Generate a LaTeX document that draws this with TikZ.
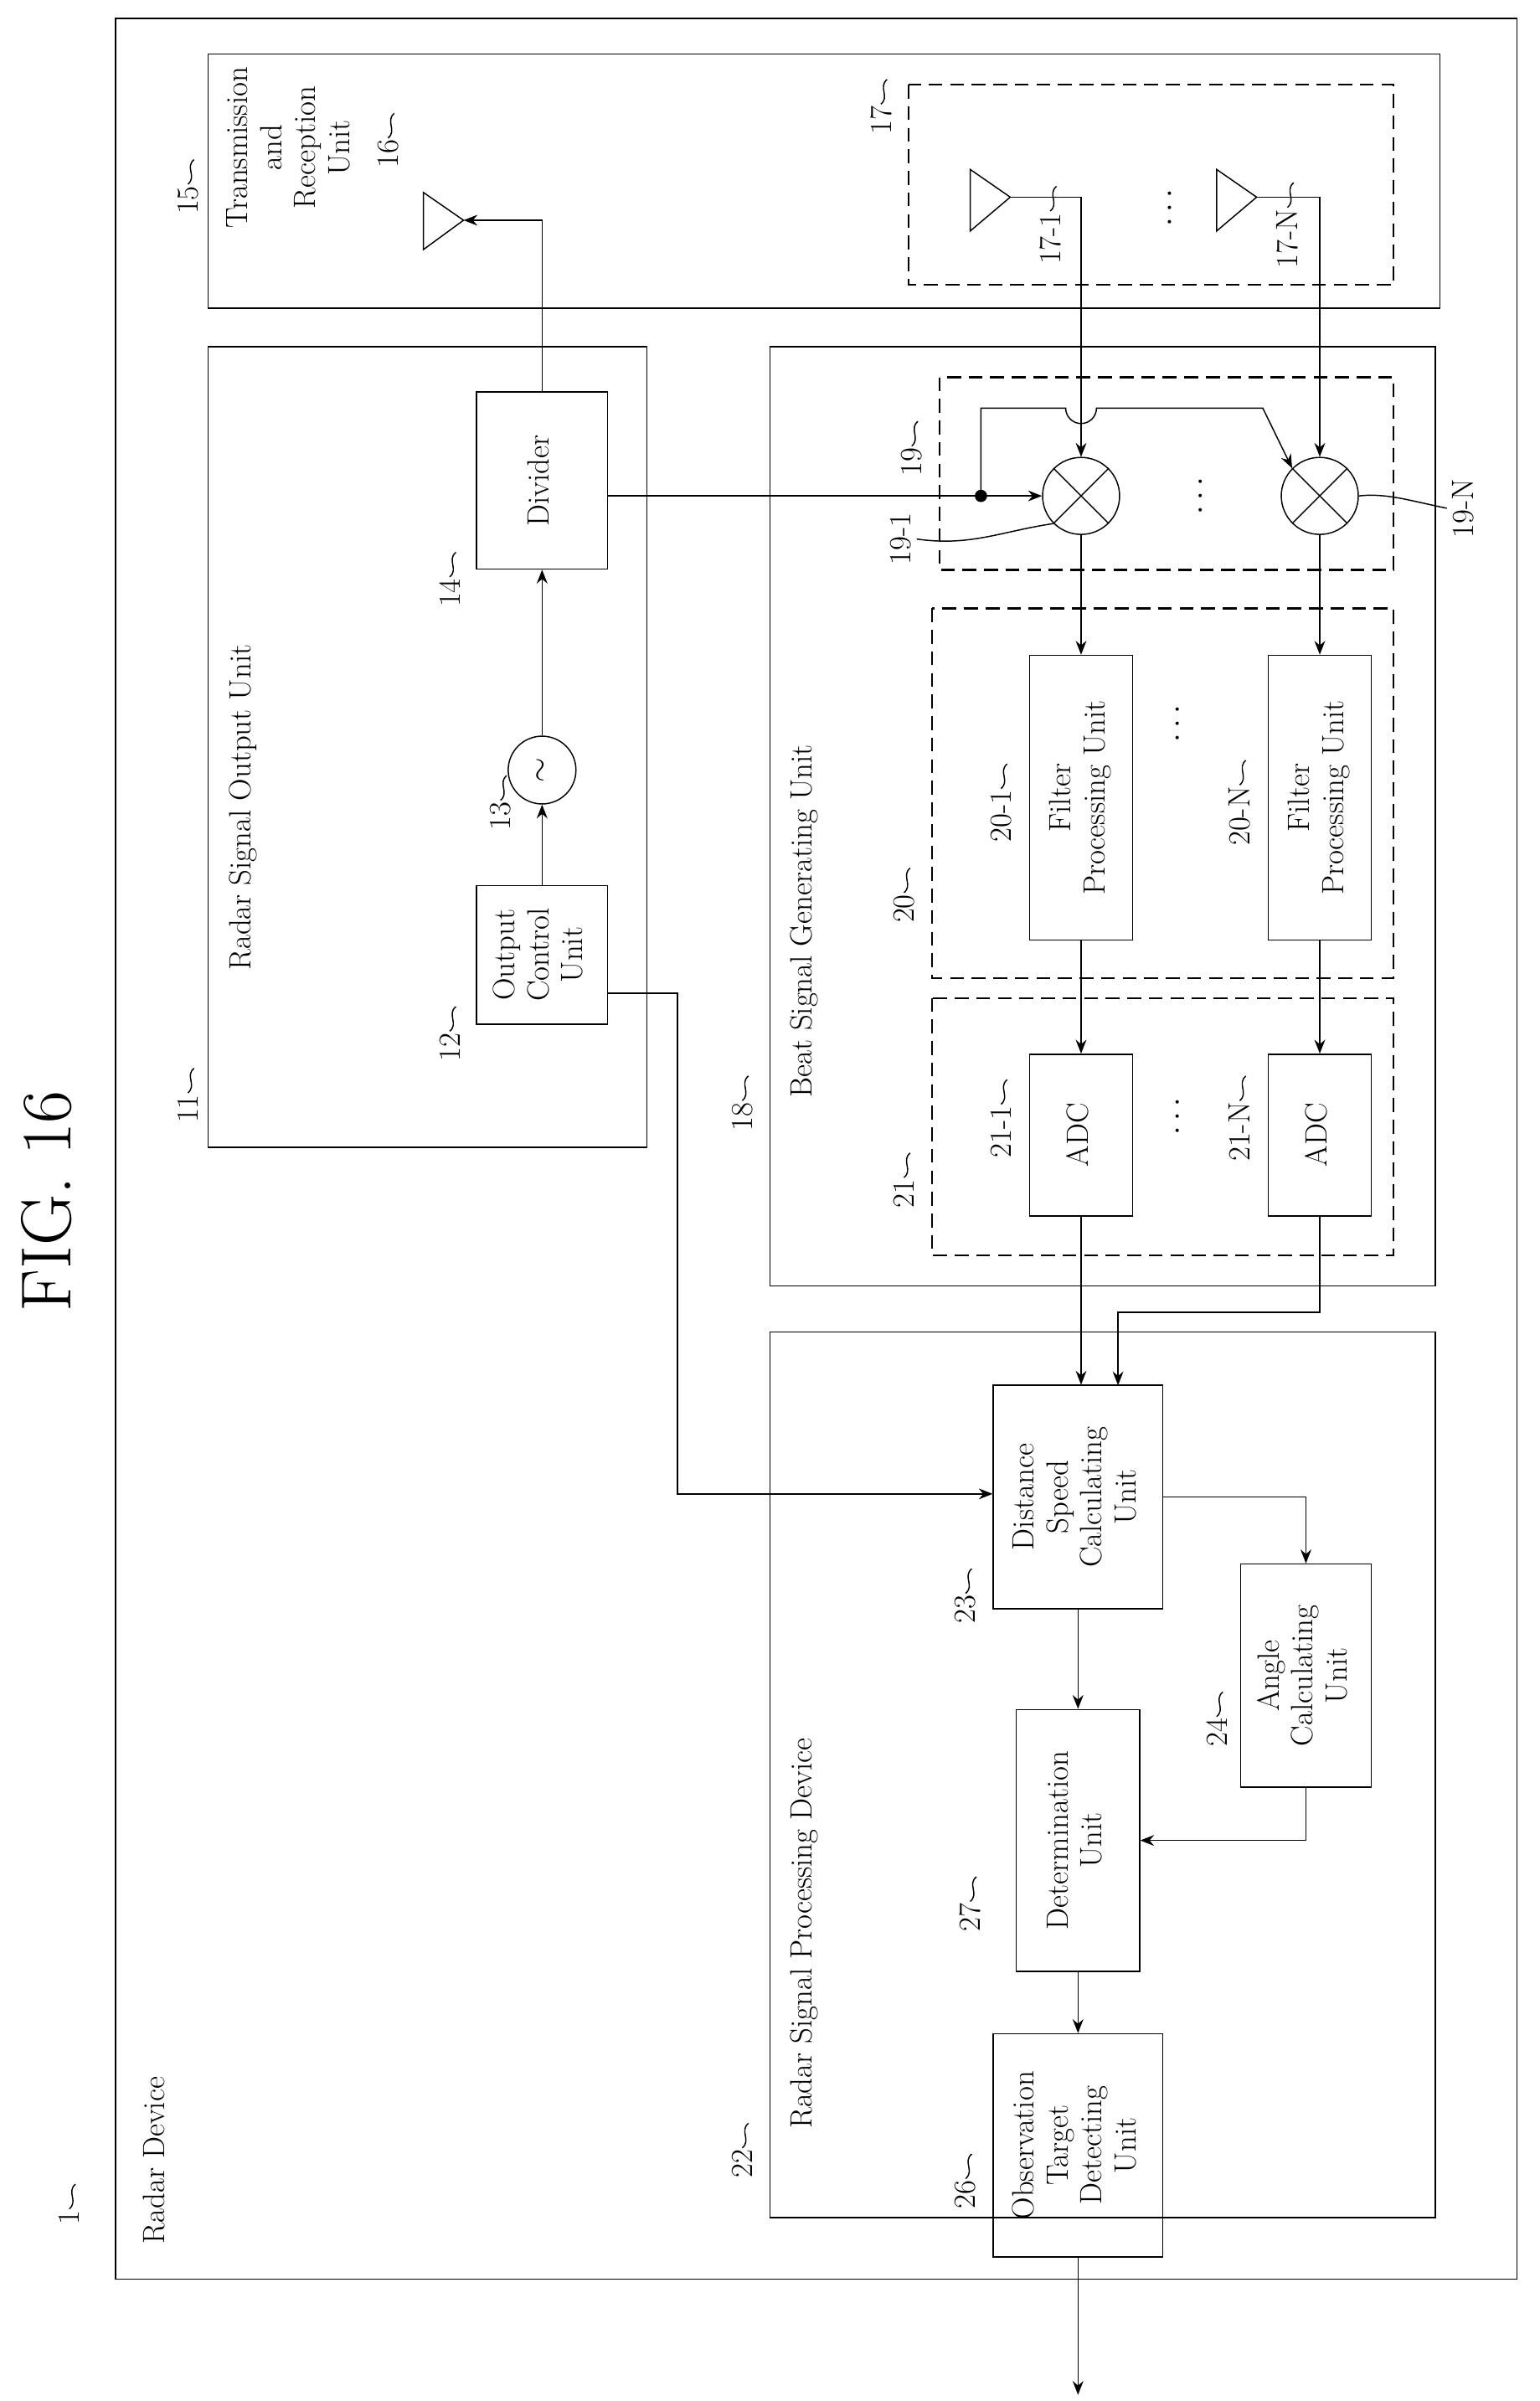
\documentclass[tikz,border=0pt]{standalone}
\usepackage{graphicx}
\usetikzlibrary{arrows.meta}
\newcommand\rt[1]{\rotatebox{90}{\begin{tabular}{@{}c@{}}#1\end{tabular}}}
\newcommand\reflbl[3]{%
  \node[font=\fontsize{20}{22}\selectfont, inner sep=1pt] (#1) at (#2) {\rotatebox{90}{#3}};
  \draw[thick] (#1.north) .. controls +(6,-5) and +(-6,5) .. +(4,-16);}
\begin{document}
\begin{tikzpicture}[x=1pt, y=-1pt,
    every node/.style={font=\fontsize{20}{22}\selectfont},
    box/.style={draw, thick, inner sep=0},
    frame/.style={draw, thick},
    dbox/.style={draw, very thick, dash pattern=on 9pt off 5pt},
    mix/.style={draw, thick, circle, minimum size=50, inner sep=0},
    flow/.style={thick, -{Stealth[length=9pt, width=7pt]}}]
  \useasboundingbox (0,0) rectangle (1000,1559);

  \node[font=\fontsize{46}{50}\selectfont] (title) at (30,780) {\rotatebox{90}{FIG. 16}};

  % frames
  \draw[frame] (75,12) rectangle (985,1480);
  \node[anchor=north] (radar) at (100,1345) {\rotatebox{90}{Radar Device}};
  \reflbl{l1}{45,1440}{1}
  \draw[frame] (135,35) rectangle (935,200);
  \node[anchor=north west] (tru) at (142,40) {\rt{Transmission\\and\\Reception\\Unit}};
  \reflbl{l15}{122,130}{15}
  \draw[frame] (135,225) rectangle (420,745);
  \node[anchor=north] (rsou) at (158,415) {\rotatebox{90}{Radar Signal Output Unit}};
  \reflbl{l11}{122,720}{11}
  \draw[frame] (500,225) rectangle (932,835);
  \node[anchor=north] (bsgu) at (522,480) {\rotatebox{90}{Beat Signal Generating Unit}};
  \reflbl{l18}{482,725}{18}
  \draw[frame] (500,865) rectangle (932,1440);
  \node[anchor=north] (rspd) at (522,1125) {\rotatebox{90}{Radar Signal Processing Device}};
  \reflbl{l22}{482,1405}{22}

  \draw[dbox] (590,55) rectangle (905,185);
  \reflbl{l17}{572,78}{17}
  \draw[dbox] (610,245) rectangle (905,370);
  \reflbl{l19}{592,300}{19}
  \draw[dbox] (605,395) rectangle (905,635);
  \reflbl{l20}{587,590}{20}
  \draw[dbox] (605,648) rectangle (905,815);
  \reflbl{l21}{587,775}{21}

  % output unit
  \node[box, minimum width=85, minimum height=115] (div) at (352,312) {\rt{Divider}};
  \reflbl{l14}{292,385}{14}
  \node[draw, thick, circle, minimum size=44, inner sep=0] (osc) at (352,500) {\rotatebox{90}{$\sim$}};
  \reflbl{l13}{325,530}{13}
  \node[box, minimum width=85, minimum height=90] (ocu) at (352,620) {\rt{Output\\Control\\Unit}};
  \reflbl{l12}{292,680}{12}

  % antennas
  \draw[thick] (275,125) -- (275,162) -- (301,143) -- cycle;
  \coordinate (ant16) at (301,143);
  \reflbl{l16}{252,100}{16}
  \draw[thick] (630,110) -- (630,150) -- (656,128) -- cycle;
  \coordinate (ant1) at (656,128);
  \reflbl{l171}{682,155}{17-1}
  \draw[thick] (790,110) -- (790,150) -- (816,128) -- cycle;
  \coordinate (antN) at (816,128);
  \reflbl{l17N}{836,155}{17-N}
  \node (dots1) at (760,135) {\rotatebox{90}{$\cdots$}};

  % mixers
  \node[mix] (mx1) at (702,322) {};
  \node[mix] (mxN) at (857,322) {};
  \foreach \m in {mx1,mxN}
    \draw[thick] (\m.north west) -- (\m.south east) (\m.north east) -- (\m.south west);
  \node (dots2) at (780,322) {\rotatebox{90}{$\cdots$}};
  \node (l191) at (585,350) {\rotatebox{90}{19-1}};
  \draw[thick] (l191.east) .. controls (630,355) and (650,345) .. (mx1.south west);
  \node (l19N) at (950,330) {\rotatebox{90}{19-N}};
  \draw[thick] (l19N.west) .. controls (915,325) and (900,320) .. (mxN.east);

  % filters and ADCs
  \node[box, minimum width=67, minimum height=185] (flt1) at (702,518) {\rt{Filter\\Processing Unit}};
  \node[box, minimum width=67, minimum height=185] (fltN) at (857,518) {\rt{Filter\\Processing Unit}};
  \reflbl{l201}{650,530}{20-1}
  \reflbl{l20N}{805,530}{20-N}
  \node (dots3) at (765,470) {\rotatebox{90}{$\cdots$}};
  \node[box, minimum width=67, minimum height=105] (adc1) at (702,737) {\rt{ADC}};
  \node[box, minimum width=67, minimum height=105] (adcN) at (857,737) {\rt{ADC}};
  \reflbl{l211}{650,735}{21-1}
  \reflbl{l21N}{805,735}{21-N}
  \node (dots4) at (765,725) {\rotatebox{90}{$\cdots$}};

  % processing device
  \node[box, minimum width=110, minimum height=145] (dsc) at (700,972) {\rt{Distance\\Speed\\Calculating\\Unit}};
  \reflbl{l23}{627,1045}{23}
  \node[box, minimum width=85, minimum height=145] (acu) at (848,1088) {\rt{Angle\\Calculating\\Unit}};
  \reflbl{l24}{790,1125}{24}
  \node[box, minimum width=80, minimum height=170] (det) at (700,1195) {\rt{Determination\\Unit}};
  \reflbl{l27}{630,1245}{27}
  \node[box, minimum width=110, minimum height=145] (obs) at (700,1393) {\rt{Observation\\Target\\Detecting\\Unit}};
  \reflbl{l26}{627,1425}{26}
  \coordinate (out) at (700,1555);

  % connections
  \draw[flow] (ocu.north) -- (osc.south);
  \draw[flow] (osc.north) -- (div.south);
  \draw[flow] (div.north) |- (ant16);
  \draw[flow] (ant1) -| (mx1.north);
  \draw[flow] (antN) -| (mxN.north);
  \coordinate (split) at (637,322);
  \draw[flow] (div.east |- split) -- (mx1.west);
  \fill (split) circle (4);
  \draw[flow] (split) -- (637,265) -- (692,265) arc[start angle=180, end angle=0, radius=10]
    -- (820,265) -- (mxN.north west);
  \draw[flow] (mx1.south) -- (flt1.north);
  \draw[flow] (mxN.south) -- (fltN.north);
  \draw[flow] (flt1.south) -- (adc1.north);
  \draw[flow] (fltN.south) -- (adcN.north);
  \draw[flow] (adc1.south) -- (adc1.south |- dsc.north);
  \draw[flow] (adcN.south) -- (857,852) -- (726,852) -- (726,899.5);
  \draw[flow] (ocu.east |- 0,645) -- (440,645) -- (440,970) -- (dsc.west |- 0,970);
  \draw[flow] (dsc.east) -| (acu.north);
  \draw[flow] (dsc.south) -- (det.north);
  \draw[flow] (acu.south) |- (det.east);
  \draw[flow] (det.south) -- (obs.north);
  \draw[flow] (obs.south) -- (out);
\end{tikzpicture}
\end{document}
